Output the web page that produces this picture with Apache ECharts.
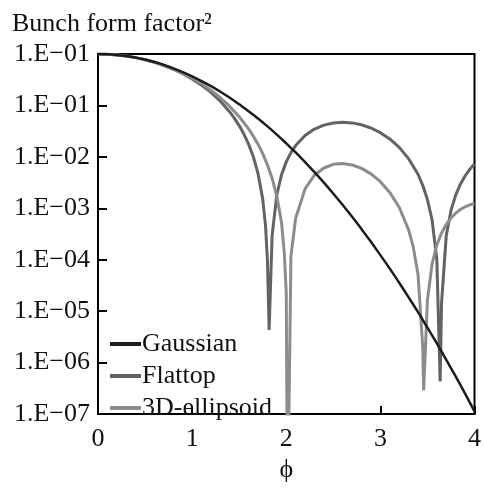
<!DOCTYPE html>
<html>
<head>
<meta charset="utf-8">
<script src="https://cdn.jsdelivr.net/npm/echarts@6/dist/echarts.min.js"></script>
<style>
  html, body { margin: 0; padding: 0; background: #fff; }
  #chart { width: 484px; height: 488px; }
</style>
</head>
<body>
<div id="chart"></div>
<script>
// tick labels as printed on the figure (top one is printed as 1.E-01 too)
const yLabels = ['1.E−07', '1.E−06', '1.E−05', '1.E−04', '1.E−03', '1.E−02', '1.E−01', '1.E−01']
const seriesNames = ['Gaussian', 'Flattop', '3D-ellipsoid']

const gaussPhi = [0, 0.1, 0.2, 0.3, 0.4, 0.5, 0.6, 0.7, 0.8, 0.9, 1.0, 1.1, 1.2, 1.3, 1.4, 1.5, 1.6, 1.7, 1.8, 1.9,
    2.0, 2.1, 2.2, 2.3, 2.4, 2.5, 2.6, 2.7, 2.8, 2.9, 3.0, 3.1, 3.2, 3.3, 3.4, 3.5, 3.6, 3.7, 3.8, 3.9, 4.0]
const gaussVal = [1, 0.990, 0.961, 0.914, 0.852, 0.779, 0.698, 0.613, 0.527, 0.445, 0.368, 0.298, 0.237, 0.185, 0.141, 0.105, 0.0773, 0.0556, 0.0392, 0.0271,
    0.0183, 0.0122, 0.0079, 0.00504, 0.00315, 0.00193, 0.00116, 6.83e-4, 3.94e-4, 2.23e-4, 1.23e-4, 6.74e-5, 3.57e-5, 1.86e-5, 9.6e-6, 4.79e-6, 2.37e-6, 1.13e-6, 5.4e-7, 2.5e-7, 1.13e-7]

const flatPhi = [0, 0.1, 0.2, 0.3, 0.4, 0.5, 0.6, 0.7, 0.8, 0.9, 1.0, 1.1, 1.2, 1.3, 1.4, 1.45, 1.5, 1.55, 1.6, 1.65,
    1.7, 1.75, 1.78, 1.8, 1.818, 1.85, 1.9, 1.95, 2.0, 2.05, 2.1, 2.2, 2.3, 2.4, 2.5, 2.6, 2.7, 2.8, 2.9, 3.0,
    3.1, 3.2, 3.3, 3.4, 3.45, 3.5, 3.55, 3.6, 3.635, 3.65, 3.7, 3.75, 3.8, 3.85, 3.9, 3.95, 4.0]
const flatVal = [1, 0.990, 0.961, 0.914, 0.851, 0.775, 0.690, 0.598, 0.505, 0.413, 0.327, 0.248, 0.179, 0.121, 0.0747, 0.0562, 0.0406, 0.0278, 0.0177, 0.0101,
    0.00476, 0.00151, 4.57e-4, 1.0e-4, 4.3e-6, 2.98e-4, 0.00185, 0.0045, 0.0080, 0.0121, 0.0166, 0.0260, 0.0347, 0.0415, 0.0457, 0.0472, 0.0458, 0.0420, 0.0364, 0.0295,
    0.0223, 0.0153, 0.00924, 0.00459, 0.0028, 0.00148, 5.85e-4, 1.0e-4, 4.3e-7, 1.45e-5, 2.97e-4, 9.1e-4, 0.00181, 0.00295, 0.00427, 0.00572, 0.00724]

const ellPhi = [0, 0.1, 0.2, 0.3, 0.4, 0.5, 0.6, 0.7, 0.8, 0.9, 1.0, 1.1, 1.2, 1.3, 1.4, 1.5, 1.6, 1.65, 1.7, 1.75,
    1.8, 1.85, 1.9, 1.95, 1.98, 2.0, 2.014, 2.05, 2.1, 2.2, 2.3, 2.4, 2.5, 2.6, 2.7, 2.8, 2.9, 3.0, 3.1, 3.2,
    3.3, 3.35, 3.4, 3.45, 3.46, 3.5, 3.55, 3.6, 3.65, 3.7, 3.75, 3.8, 3.85, 3.9, 3.95, 4.0]
const ellVal = [1, 0.990, 0.961, 0.914, 0.851, 0.776, 0.693, 0.603, 0.512, 0.424, 0.340, 0.264, 0.197, 0.141, 0.0956, 0.0605, 0.0350, 0.0253, 0.0177, 0.01155,
    0.00701, 0.00381, 0.00171, 5.26e-4, 1.31e-4, 2.27e-5, 1e-9, 1.19e-4, 6.43e-4, 0.00239, 0.00444, 0.00608, 0.00716, 0.00742, 0.00696, 0.00597, 0.00467, 0.0033, 0.00204, 0.00105,
    3.82e-4, 1.76e-4, 5.2e-5, 2.0e-6, 2.9e-7, 1.65e-5, 8.43e-5, 1.94e-4, 3.32e-4, 4.87e-4, 6.48e-4, 8.06e-4, 9.48e-4, 0.00107, 0.00117, 0.00123]

function pairs(xs, ys) {
    let out = []
    for (let i = 0; i < xs.length; i++) {
        out.push([xs[i], ys[i]])
    }
    return out
}

const font = 'Liberation Serif'
const fs = 26

const option = {
    animation: false,
    backgroundColor: '#fff',
    title: {
        text: 'Bunch form factor²',
        left: 7,
        top: 6,
        textStyle: { fontFamily: font, fontSize: fs, fontWeight: 'normal', color: '#111' }
    },
    legend: {
        data: seriesNames,
        orient: 'vertical',
        left: 105,
        top: 326,
        itemGap: 6,
        itemWidth: 31,
        itemHeight: 4,
        icon: 'rect',
        textStyle: { fontFamily: font, fontSize: fs, color: '#111', padding: [0, 0, 0, -4] }
    },
    grid: {
        left: 98,
        right: 6,
        top: 54,
        bottom: 65,
        show: true,
        borderColor: '#000',
        borderWidth: 2,
        containLabel: false
    },
    xAxis: {
        type: 'value',
        min: 0,
        max: 4,
        interval: 1,
        name: 'ϕ',
        nameLocation: 'middle',
        nameGap: 39,
        nameTextStyle: { fontFamily: font, fontSize: fs, color: '#111' },
        axisLine: { lineStyle: { color: '#000', width: 2 } },
        axisTick: { inside: true, length: 8, lineStyle: { color: '#000', width: 2 } },
        axisLabel: { fontFamily: font, fontSize: fs, color: '#111', margin: 12 },
        splitLine: { show: false }
    },
    yAxis: {
        type: 'log',
        logBase: 10,
        min: 1e-7,
        max: 1,
        interval: 1,
        axisLine: { lineStyle: { color: '#000', width: 2 } },
        axisTick: { inside: true, length: 9, lineStyle: { color: '#000', width: 2 } },
        axisLabel: {
            fontFamily: font,
            fontSize: fs,
            color: '#111',
            margin: 8,
            formatter: function (v) {
                let idx = Math.round(Math.log10(v)) + 7
                return yLabels[idx]
            }
        },
        splitLine: { show: false }
    },
    series: [
        {
            name: 'Flattop',
            type: 'line',
            data: pairs(flatPhi, flatVal),
            showSymbol: false,
            symbol: 'none',
            color: '#636363',
            lineStyle: { color: '#636363', width: 3 }
        },
        {
            name: '3D-ellipsoid',
            type: 'line',
            data: pairs(ellPhi, ellVal),
            showSymbol: false,
            symbol: 'none',
            color: '#8c8c8c',
            lineStyle: { color: '#8c8c8c', width: 3 }
        },
        {
            name: 'Gaussian',
            type: 'line',
            data: pairs(gaussPhi, gaussVal),
            showSymbol: false,
            symbol: 'none',
            smooth: true,
            color: '#1c1c1c',
            lineStyle: { color: '#1c1c1c', width: 2.5 }
        }
    ]
}

const myChart = echarts.init(document.getElementById('chart'))
myChart.setOption(option)
</script>
</body>
</html>
